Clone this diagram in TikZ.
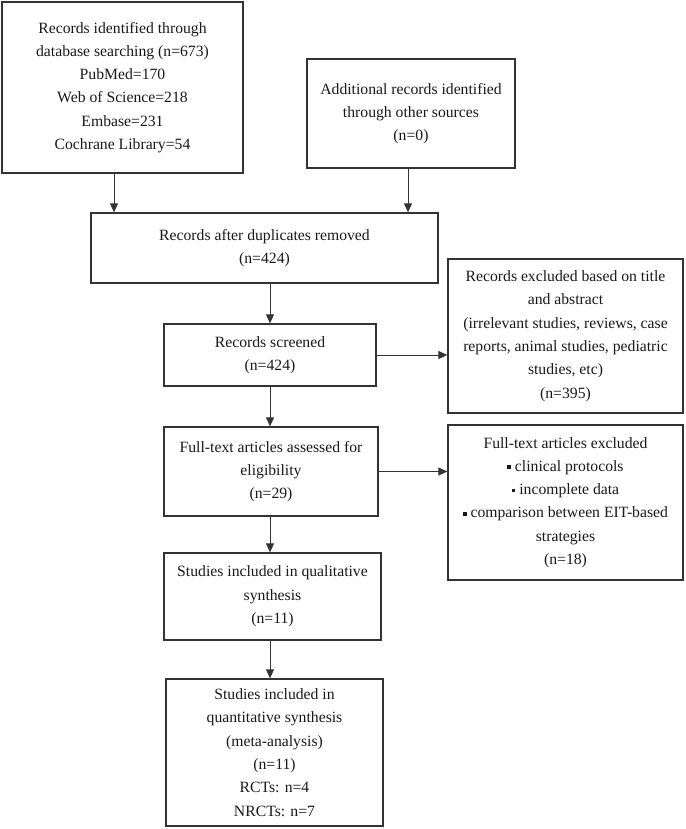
\documentclass[tikz,border=0pt]{standalone}
\usepackage{fontspec}
\setmainfont{Liberation Serif}
\usetikzlibrary{arrows.meta}
\newcommand{\sqb}{\raisebox{0.32ex}{\rule{3.6pt}{3.6pt}}\ }
\begin{document}
\begin{tikzpicture}[x=1pt,y=-1pt,
  box/.style={draw=black!80, line width=1.3pt, inner sep=0pt, align=center,
    font=\fontsize{15.7}{23.3}\selectfont, text=black!90},
  arr/.style={draw=black!80, line width=0.8pt, -{Triangle[length=9pt,width=8pt]}}]
\useasboundingbox (0,0) rectangle (685,829);
\node[box, minimum width=241pt, minimum height=171pt] (b1) at (122.5,87.5)
  {Records identified through\\database searching (n=673)\\PubMed=170\\Web of Science=218\\Embase=231\\Cochrane Library=54};
\node[box, minimum width=208pt, minimum height=109pt] (b2) at (411,113.5)
  {Additional records identified\\through other sources\\(n=0)};
\node[box, minimum width=347pt, minimum height=70pt] (b3) at (264.5,248)
  {Records after duplicates removed\\(n=424)};
\node[box, minimum width=212pt, minimum height=62pt] (b4) at (270,355)
  {Records screened\\(n=424)};
\node[box, minimum width=235pt, minimum height=154pt] (b5) at (565.5,336)
  {Records excluded based on title\\and abstract\\(irrelevant studies, reviews, case\\reports, animal studies, pediatric\\studies, etc)\\(n=395)};
\node[box, minimum width=214pt, minimum height=89pt] (b6) at (271,471.5)
  {Full-text articles assessed for\\eligibility\\(n=29)};
\node[box, minimum width=235pt, minimum height=155pt] (b7) at (565.5,502.5)
  {Full-text articles excluded\\\sqb clinical protocols\\\sqb incomplete data\\\sqb comparison between EIT-based\\strategies\\(n=18)};
\node[box, minimum width=217pt, minimum height=87pt] (b8) at (272.5,596.5)
  {Studies included in qualitative\\synthesis\\(n=11)};
\node[box, minimum width=217pt, minimum height=147pt] (b9) at (274.5,752.5)
  {Studies included in\\quantitative synthesis\\(meta-analysis)\\(n=11)\\RCTs: n=4\\NRCTs: n=7};
\draw[arr] ([xshift=-8.5pt]b1.south) -- ([xshift=-8.5pt]b1.south |- b3.north);
\draw[arr] ([xshift=-3pt]b2.south) -- ([xshift=-3pt]b2.south |- b3.north);
\draw[arr] (b4.north |- b3.south) -- (b4.north);
\draw[arr] (b4.east) -- (b4.east -| b5.west);
\draw[arr] (b4.south) -- (b4.south |- b6.north);
\draw[arr] (b6.east) -- (b6.east -| b7.west);
\draw[arr] (b4.south |- b6.south) -- (b4.south |- b8.north);
\draw[arr] (b4.south |- b8.south) -- (b4.south |- b9.north);
\end{tikzpicture}
\end{document}
